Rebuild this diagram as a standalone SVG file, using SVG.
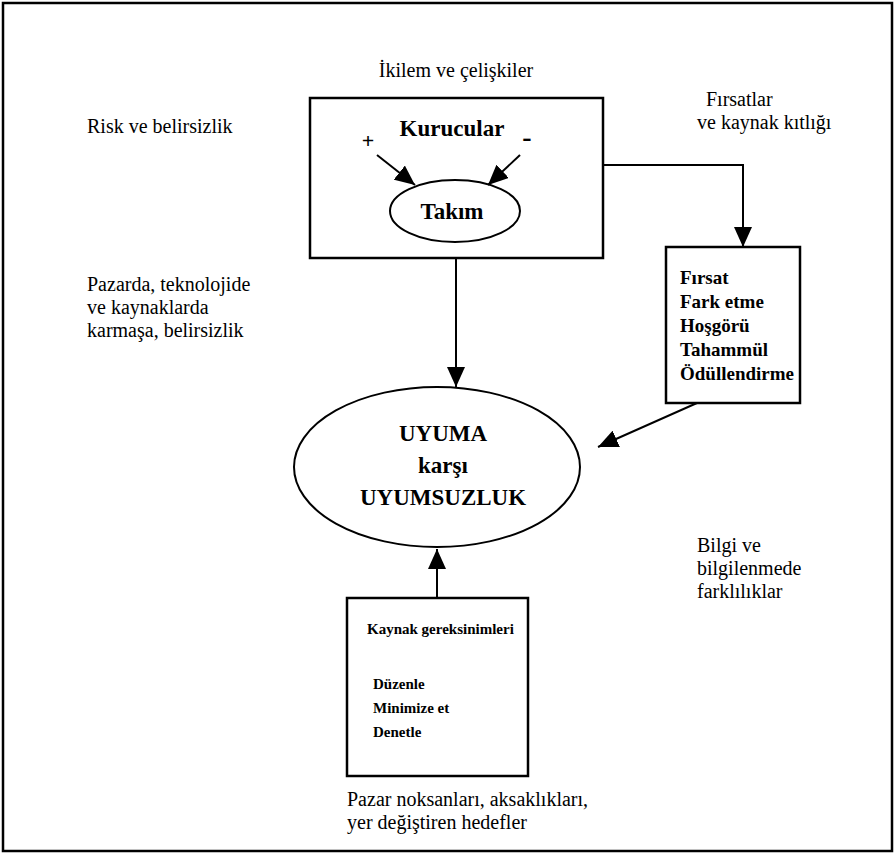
<svg xmlns="http://www.w3.org/2000/svg" width="895" height="856" viewBox="0 0 895 856">
<defs>
<style>
text{font-family:'Liberation Serif','Times New Roman',serif;fill:#000}
.t{font-size:20px}
.b{font-weight:bold}
.box{fill:#fff;stroke:#000;stroke-width:2.5}
.ln{fill:none;stroke:#000;stroke-width:2}
</style>
<marker id="ah2" markerWidth="20" markerHeight="18" refX="20" refY="9" orient="auto" markerUnits="userSpaceOnUse" viewBox="0 0 20 18">
<path d="M0,0 L20,9 L0,18 z" fill="#000"/>
</marker>
</defs>
<rect x="3" y="3" width="889" height="848" fill="#fff" stroke="#000" stroke-width="2.5"/>
<g id="labels">
<text class="t" x="456" y="77" font-size="18" text-anchor="middle">İkilem ve çelişkiler</text>
<text class="t" x="706" y="106">Fırsatlar</text>
<text class="t" x="697" y="129" font-size="21">ve kaynak kıtlığı</text>
<text class="t" x="87" y="133">Risk ve belirsizlik</text>
<text class="t" x="87" y="291">Pazarda, teknolojide</text>
<text class="t" x="87" y="314">ve kaynaklarda</text>
<text class="t" x="87" y="337">karmaşa, belirsizlik</text>
<text class="t" x="697" y="552">Bilgi ve</text>
<text class="t" x="697" y="575">bilgilenmede</text>
<text class="t" x="697" y="598">farklılıklar</text>
<text class="t" x="347" y="806" font-size="21">Pazar noksanları, aksaklıkları,</text>
<text class="t" x="347" y="829" font-size="21">yer değiştiren hedefler</text>
</g>
<g id="kurucular">
<rect class="box" x="310" y="98" width="293" height="160"/>
<text class="b" x="452" y="136" font-size="23" text-anchor="middle">Kurucular</text>
<text class="b" x="368" y="148" font-size="22" text-anchor="middle">+</text>
<text class="b" x="527" y="146" font-size="28" text-anchor="middle">-</text>
</g>
<g id="takim">
<ellipse cx="455" cy="211" rx="65" ry="31" fill="#fff" stroke="#000" stroke-width="2"/>
<text class="b" x="452" y="219" font-size="23" text-anchor="middle">Takım</text>
</g>
<g id="firsat">
<rect class="box" x="666" y="247" width="134" height="156"/>
<text class="b" x="680" y="284" font-size="19">Fırsat</text>
<text class="b" x="680" y="308" font-size="19">Fark etme</text>
<text class="b" x="680" y="332" font-size="19">Hoşgörü</text>
<text class="b" x="680" y="356" font-size="19">Tahammül</text>
<text class="b" x="680" y="380" font-size="19">Ödüllendirme</text>
</g>
<g id="uyuma">
<ellipse cx="437" cy="467" rx="143" ry="80" fill="#fff" stroke="#000" stroke-width="2"/>
<text class="b" x="443" y="441" font-size="23" text-anchor="middle">UYUMA</text>
<text class="b" x="443" y="473" font-size="23" text-anchor="middle">karşı</text>
<text class="b" x="443" y="505" font-size="23" text-anchor="middle">UYUMSUZLUK</text>
</g>
<g id="kaynak">
<rect class="box" x="347" y="598" width="181" height="178"/>
<text class="b" x="367" y="634" font-size="15">Kaynak gereksinimleri</text>
<text class="b" x="373" y="689" font-size="15">Düzenle</text>
<text class="b" x="373" y="713" font-size="15">Minimize et</text>
<text class="b" x="373" y="737" font-size="15">Denetle</text>
</g>
<g id="connectors">
<line class="ln" x1="377" y1="155" x2="415" y2="185" stroke-width="3" marker-end="url(#ah2)"/>
<line class="ln" x1="520" y1="155" x2="488" y2="185" stroke-width="3" marker-end="url(#ah2)"/>
<polyline class="ln" points="603,165 743,165 743,247" marker-end="url(#ah2)"/>
<line class="ln" x1="456" y1="258" x2="456" y2="387" marker-end="url(#ah2)"/>
<line class="ln" x1="697" y1="403" x2="598" y2="447" stroke-width="2.5" marker-end="url(#ah2)"/>
<line class="ln" x1="437" y1="598" x2="437" y2="549" marker-end="url(#ah2)"/>
</g>
</svg>
